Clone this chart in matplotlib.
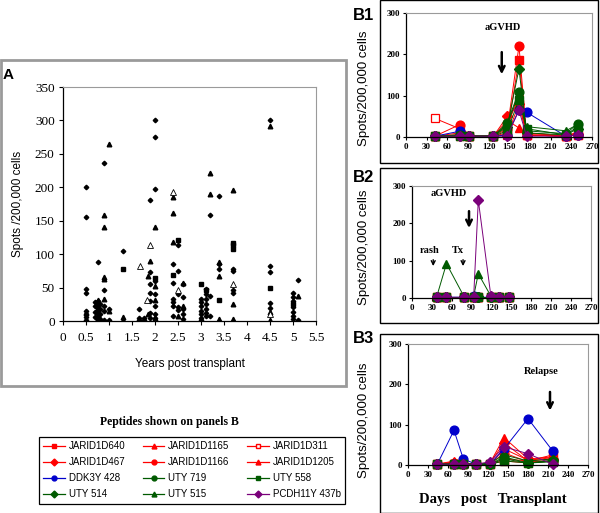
import matplotlib
matplotlib.use("Agg")
import matplotlib.pyplot as plt
from matplotlib.patches import Rectangle
from matplotlib.lines import Line2D
import numpy as np

W, H = 600, 513
SERIF = "Liberation Serif"
SANS = "Liberation Sans"

# ---- panel A: all patients, spots vs years post transplant ----
dia_x = [0.5, 0.5, 0.5, 0.5, 0.5, 0.5, 0.5, 0.5,
         0.75, 0.75, 0.75, 0.75, 0.75, 0.75, 0.75, 0.75, 0.75, 0.75,
         0.7, 0.7, 0.7, 0.7,
         0.8, 0.8, 0.8, 0.8,
         0.9, 0.9, 0.9, 0.9, 0.9,
         1.0, 1.0,
         1.3,
         1.65, 1.65, 1.65,
         1.75, 1.75,
         1.9, 1.9, 1.9, 1.9, 1.9, 1.9, 1.9,
         2.0, 2.0, 2.0, 2.0, 2.0, 2.0, 2.0, 2.0,
         2.4, 2.4, 2.4, 2.4, 2.4, 2.4,
         2.5, 2.5, 2.5, 2.5, 2.5,
         2.6, 2.6, 2.6, 2.6, 2.6,
         3.0, 3.0, 3.0, 3.0, 3.0, 3.0, 3.0,
         3.1, 3.1, 3.1, 3.1, 3.1, 3.1, 3.1,
         3.2, 3.2, 3.2,
         3.4, 3.4, 3.4,
         3.7, 3.7, 3.7, 3.7,
         4.5, 4.5, 4.5, 4.5, 4.5,
         5.0, 5.0, 5.0, 5.0, 5.0, 5.0, 5.0,
         5.1, 5.1]
dia_y = [200, 156, 48, 42, 15, 10, 6, 2,
         88, 30, 27, 24, 20, 16, 12, 8, 4, 1,
         28, 22, 14, 6,
         25, 18, 10, 3,
         236, 46, 23, 15, 2,
         18, 2,
         105,
         18, 5, 2,
         5, 2,
         181, 73, 55, 42, 30, 12, 5,
         301, 275, 197, 60, 41, 23, 11, 5,
         85, 57, 33, 28, 23, 8,
         113, 75, 41, 21, 16,
         55, 36, 18, 11, 3,
         33, 28, 22, 15, 10, 5, 2,
         48, 40, 33, 25, 18, 12, 7,
         158, 37, 8,
         187, 85, 78,
         78, 75, 47, 42,
         301, 82, 73, 27, 20,
         42, 36, 30, 21, 13, 7, 3,
         61, 1]

tri_x = [0.5,
         0.75, 0.75, 0.75, 0.75, 0.75, 0.75,
         0.9, 0.9, 0.9, 0.9, 0.9,
         1.0, 1.0,
         1.3, 1.3,
         1.85, 1.85,
         1.9,
         2.0, 2.0, 2.0, 2.0,
         2.4, 2.4, 2.4,
         2.5,
         2.6, 2.6,
         3.2, 3.2,
         3.4, 3.4, 3.4,
         3.7, 3.7, 3.7,
         4.5, 4.5, 4.5,
         5.1]
tri_y = [12,
         32, 26, 20, 14, 9, 5,
         158, 140, 66, 63, 33,
         265, 15,
         6, 2,
         68, 10,
         89,
         140, 53, 31, 5,
         185, 161, 118,
         8,
         57, 23,
         222, 190,
         88, 68, 3,
         196, 26, 3,
         291, 13, 2,
         37]

sq_x = [1.3, 2.0, 2.4, 2.5, 3.0, 3.1, 3.4, 3.7, 3.7, 3.7, 4.5, 5.0]
sq_y = [78, 64, 69, 121, 55, 46, 31, 117, 113, 108, 49, 25]

otri_x = [1.67, 1.82, 1.9, 2.4, 2.5, 3.7, 4.5]
otri_y = [83, 31, 114, 193, 46, 55, 10]

# ---- panels B: individual patients over days post transplant ----
names = ["JARID1D640", "JARID1D1165", "JARID1D311",
         "JARID1D467", "JARID1D1166", "JARID1D1205",
         "DDK3Y 428", "UTY 719", "UTY 558",
         "UTY 514", "UTY 515", "PCDH11Y 437b"]
RED, NAVY, GREEN, PURPLE = "#ff0000", "#0000cc", "#005a00", "#7a007a"
colors = [RED, RED, RED, RED, RED, RED, NAVY, GREEN, GREEN, GREEN, GREEN, PURPLE]
markers = ["s", "^", "s", "D", "o", "^", "o", "o", "s", "D", "^", "D"]
filled = [True, True, False, True, True, True, True, True, True, True, True, True]

b1_days = [42, 78, 92, 127, 147, 164, 175, 232, 249]
b1_vals = [
    [2, 5, 2, 2, 10, 187, 5, 2, 5],
    [2, 10, 2, 2, 30, 95, 10, 2, 10],
    [45, 20, 2, 2, 5, 80, 5, 2, 5],
    [2, 5, 2, 2, 50, 80, 10, 2, 8],
    [2, 30, 2, 2, 20, 220, 5, 2, 5],
    [2, 3, 2, 2, 40, 22, 5, 2, 12],
    [2, 14, 2, 2, 5, 65, 60, 2, 5],
    [2, 5, 2, 2, 35, 110, 15, 8, 32],
    [2, 2, 2, 2, 15, 90, 20, 5, 25],
    [2, 2, 2, 2, 25, 165, 10, 5, 20],
    [2, 5, 2, 2, 30, 105, 25, 15, 30],
    [2, 2, 2, 2, 2, 65, 2, 2, 5],
]

b2_days = [37, 52, 79, 93, 100, 119, 131, 147]
b2_vals = [
    [2, 2, 2, 2, 2, 2, 2, 2],
    [2, 2, 2, 2, 2, 2, 2, 2],
    [2, 2, 2, 2, 2, 2, 2, 2],
    [2, 2, 2, 2, 2, 2, 2, 2],
    [2, 2, 2, 2, 2, 2, 2, 2],
    [2, 2, 2, 2, 2, 2, 2, 2],
    [2, 2, 2, 5, 2, 2, 2, 2],
    [2, 2, 2, 2, 2, 2, 2, 2],
    [2, 2, 2, 2, 2, 2, 2, 2],
    [2, 2, 2, 2, 2, 2, 2, 2],
    [2, 92, 2, 5, 65, 5, 2, 2],
    [2, 2, 2, 2, 262, 5, 2, 2],
]

b3_days = [44, 69, 83, 102, 123, 144, 180, 217]
b3_vals = [
    [2, 2, 5, 2, 2, 15, 10, 25],
    [2, 10, 5, 2, 5, 68, 15, 20],
    [2, 2, 2, 2, 2, 10, 5, 10],
    [2, 5, 2, 2, 5, 55, 10, 15],
    [2, 5, 2, 2, 2, 30, 8, 10],
    [2, 8, 2, 2, 2, 40, 12, 18],
    [2, 86, 15, 2, 2, 40, 115, 35],
    [2, 2, 2, 2, 2, 20, 5, 10],
    [2, 2, 2, 2, 2, 10, 5, 8],
    [2, 2, 2, 2, 2, 15, 5, 12],
    [2, 2, 2, 2, 5, 25, 10, 15],
    [2, 2, 2, 2, 8, 45, 28, 2],
]


def rect(l, t, r, b):
    return [l / W, 1 - b / H, (r - l) / W, (b - t) / H]


def box(fig, l, t, r, b, color, lw):
    fig.add_artist(Rectangle((l / W, 1 - b / H), (r - l) / W, (b - t) / H,
                             transform=fig.transFigure, fill=False,
                             edgecolor=color, linewidth=lw))


def style_axes(ax, fs, weight):
    for s in ["top", "right"]:
        ax.spines[s].set_color("#9a9a9a")
    for s in ["left", "bottom"]:
        ax.spines[s].set_color("black")
        ax.spines[s].set_linewidth(0.9)
    ax.tick_params(direction="out", length=3, width=0.8, pad=3)
    for lab in ax.get_xticklabels() + ax.get_yticklabels():
        lab.set_fontfamily(SERIF)
        lab.set_fontsize(fs)
        lab.set_fontweight(weight)


fig = plt.figure(figsize=(W / 100, H / 100), dpi=100)

# outer boxes
box(fig, 1, 60, 346, 386, "#9a9a9a", 2)
box(fig, 380, 0.5, 598, 163, "black", 1)
box(fig, 380, 168, 598, 323, "black", 1)
box(fig, 380, 334, 598, 512.5, "black", 1)

# panel A
axA = fig.add_axes(rect(63, 87, 316, 321))
axA.plot(dia_x, dia_y, "D", color="black", ms=2.3, ls="none")
axA.plot(tri_x, tri_y, "^", color="black", ms=3.3, ls="none")
axA.plot(sq_x, sq_y, "s", color="black", ms=2.8, ls="none")
axA.plot(otri_x, otri_y, "^", mfc="white", mec="black", mew=0.6, ms=4.5, ls="none")
axA.set_xlim(0, 5.5)
axA.set_ylim(0, 350)
axA.set_xticks(np.arange(0, 5.51, 0.5))
axA.set_xticklabels(["0", "0.5", "1", "1.5", "2", "2.5", "3", "3.5", "4", "4.5", "5", "5.5"])
axA.set_yticks(np.arange(0, 351, 50))
style_axes(axA, 9.5, "normal")
axA.tick_params(axis="x", pad=5)
axA.set_ylabel("Spots /200,000 cells", fontfamily=SANS, fontsize=8.5, labelpad=8)
axA.set_xlabel("Years post transplant", fontfamily=SANS, fontsize=8.5, labelpad=10)
fig.text(3 / W, 1 - 79 / H, "A", fontfamily=SANS, fontweight="bold", fontsize=11)


def draw_b(rc, days, vals):
    ax = fig.add_axes(rect(*rc))
    for i in range(len(names)):
        ax.plot(days, vals[i], color=colors[i], marker=markers[i], lw=0.7,
                ms=6.3 if markers[i] != "D" else 5,
                mfc=colors[i] if filled[i] else "white", mec=colors[i],
                mew=1 if filled[i] else 0.9, clip_on=False)
    ax.set_xlim(0, 270)
    ax.set_ylim(0, 300)
    ax.set_xticks(np.arange(0, 271, 30))
    ax.set_yticks([0, 100, 200, 300])
    style_axes(ax, 6.5, "bold")
    ax.tick_params(length=2.5, pad=2)
    return ax


axB1 = draw_b((406, 13, 592, 137), b1_days, b1_vals)
axB2 = draw_b((412, 186, 591, 298), b2_days, b2_vals)
axB3 = draw_b((408, 344, 588, 465), b3_days, b3_vals)

for lab, y in [("B1", 20), ("B2", 182), ("B3", 343)]:
    fig.text(353 / W, 1 - y / H, lab, fontfamily=SANS, fontweight="bold", fontsize=12)
for yc in [88, 247, 420]:
    fig.text(364 / W, 1 - yc / H, "Spots/200,000 cells", rotation=90,
             fontfamily=SANS, fontsize=9.5, ha="center", va="center")

arr = dict(arrowstyle="->", lw=1.8, color="black", mutation_scale=10)
small_arr = dict(arrowstyle="->", lw=1, color="black", mutation_scale=7)
txt = dict(fontfamily=SERIF, fontweight="bold", fontsize=7.5, ha="center", va="center")
axB1.text(141, 264, "aGVHD", **txt)
axB1.annotate("", xy=(139, 145), xytext=(139, 212), arrowprops=arr, annotation_clip=False)
axB2.text(56, 279, "aGVHD", **txt)
axB2.annotate("", xy=(86, 180), xytext=(86, 240), arrowprops=arr, annotation_clip=False)
axB2.text(26, 126, "rash", **txt)
axB2.annotate("", xy=(32, 78), xytext=(32, 110), arrowprops=small_arr)
axB2.text(70, 126, "Tx", **txt)
axB2.annotate("", xy=(77, 78), xytext=(77, 110), arrowprops=small_arr)
axB3.text(200, 231, "Relapse", **txt)
axB3.annotate("", xy=(213, 128), xytext=(213, 188), arrowprops=arr, annotation_clip=False)
fig.text(493 / W, 1 - 500 / H, "Days   post   Transplant", fontfamily=SERIF,
         fontweight="bold", fontsize=10.5, ha="center", va="center")

# legend for panels B
fig.text(169 / W, 1 - 422 / H, "Peptides shown on panels B", fontfamily=SERIF,
         fontweight="bold", fontsize=8.5, ha="center", va="center")
order = [0, 3, 6, 9, 1, 4, 7, 10, 2, 5, 8, 11]
handles = [Line2D([], [], color=colors[i], marker=markers[i], lw=0.9, ms=3.5,
                  mfc=colors[i] if filled[i] else "white", mec=colors[i]) for i in order]
leg = fig.legend(handles, [names[i] for i in order], ncol=3, loc="upper left",
                 bbox_to_anchor=(39 / W, 1 - 438 / H, 306 / W, 1 / H), mode="expand",
                 frameon=True, fancybox=False, edgecolor="black", framealpha=1,
                 prop={"family": SANS, "size": 7}, handlelength=2.2, handletextpad=0.4,
                 labelspacing=0.62, borderpad=0.45, columnspacing=0.8, borderaxespad=0)
leg.get_frame().set_linewidth(0.9)

fig.savefig("out.png", dpi=100, facecolor="white")
